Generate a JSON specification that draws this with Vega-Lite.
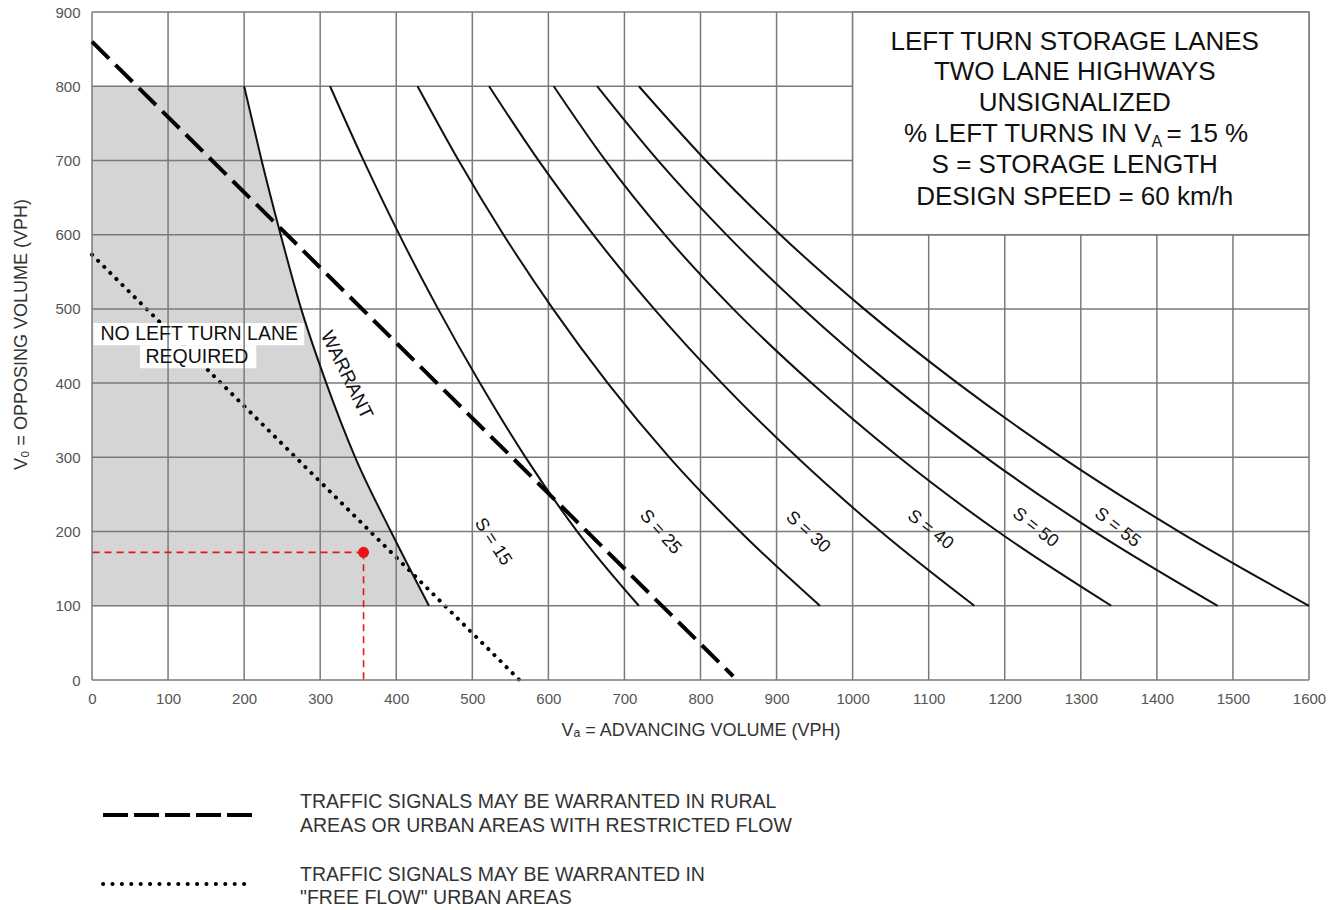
{
  "$schema": "https://vega.github.io/schema/vega-lite/v6.json",
  "width": 1217,
  "height": 668,
  "autosize": {"type": "none"},
  "padding": {"left": 92, "top": 12, "right": 23, "bottom": 230},
  "background": "white",
  "config": {
    "view": {"stroke": null},
    "font": "Liberation Sans",
    "text": {"font": "Liberation Sans", "color": "#111"}
  },
  "datasets": {
    "curves": [
      {"curve": "WARRANT", "VA": 200, "V0": 800}, {"curve": "WARRANT", "VA": 223, "V0": 700}, {"curve": "WARRANT", "VA": 248, "V0": 600}, {"curve": "WARRANT", "VA": 275, "V0": 500}, {"curve": "WARRANT", "VA": 308, "V0": 400}, {"curve": "WARRANT", "VA": 346, "V0": 300}, {"curve": "WARRANT", "VA": 393, "V0": 200}, {"curve": "WARRANT", "VA": 443, "V0": 100},
      {"curve": "S15", "VA": 313, "V0": 800}, {"curve": "S15", "VA": 357, "V0": 700}, {"curve": "S15", "VA": 404, "V0": 600}, {"curve": "S15", "VA": 455, "V0": 500}, {"curve": "S15", "VA": 510, "V0": 400}, {"curve": "S15", "VA": 570, "V0": 300}, {"curve": "S15", "VA": 638, "V0": 200}, {"curve": "S15", "VA": 719, "V0": 100},
      {"curve": "S25", "VA": 428, "V0": 800}, {"curve": "S25", "VA": 482, "V0": 700}, {"curve": "S25", "VA": 541, "V0": 600}, {"curve": "S25", "VA": 606, "V0": 500}, {"curve": "S25", "VA": 678, "V0": 400}, {"curve": "S25", "VA": 759, "V0": 300}, {"curve": "S25", "VA": 852, "V0": 200}, {"curve": "S25", "VA": 957, "V0": 100},
      {"curve": "S30", "VA": 522, "V0": 800}, {"curve": "S30", "VA": 587, "V0": 700}, {"curve": "S30", "VA": 659, "V0": 600}, {"curve": "S30", "VA": 739, "V0": 500}, {"curve": "S30", "VA": 828, "V0": 400}, {"curve": "S30", "VA": 927, "V0": 300}, {"curve": "S30", "VA": 1037, "V0": 200}, {"curve": "S30", "VA": 1160, "V0": 100},
      {"curve": "S40", "VA": 607, "V0": 800}, {"curve": "S40", "VA": 675, "V0": 700}, {"curve": "S40", "VA": 753, "V0": 600}, {"curve": "S40", "VA": 843, "V0": 500}, {"curve": "S40", "VA": 946, "V0": 400}, {"curve": "S40", "VA": 1061, "V0": 300}, {"curve": "S40", "VA": 1191, "V0": 200}, {"curve": "S40", "VA": 1340, "V0": 100},
      {"curve": "S50", "VA": 664, "V0": 800}, {"curve": "S50", "VA": 744, "V0": 700}, {"curve": "S50", "VA": 834, "V0": 600}, {"curve": "S50", "VA": 935, "V0": 500}, {"curve": "S50", "VA": 1048, "V0": 400}, {"curve": "S50", "VA": 1175, "V0": 300}, {"curve": "S50", "VA": 1318, "V0": 200}, {"curve": "S50", "VA": 1480, "V0": 100},
      {"curve": "S55", "VA": 719, "V0": 800}, {"curve": "S55", "VA": 807, "V0": 700}, {"curve": "S55", "VA": 905, "V0": 600}, {"curve": "S55", "VA": 1015, "V0": 500}, {"curve": "S55", "VA": 1138, "V0": 400}, {"curve": "S55", "VA": 1275, "V0": 300}, {"curve": "S55", "VA": 1429, "V0": 200}, {"curve": "S55", "VA": 1600, "V0": 100}
    ],
    "signals": [
      {"kind": "rural", "VA": 0, "V0": 860}, {"kind": "rural", "VA": 843, "V0": 5},
      {"kind": "free", "VA": 0, "V0": 573}, {"kind": "free", "VA": 562, "V0": 0}
    ],
    "gridX": [{"g": 0}, {"g": 100}, {"g": 200}, {"g": 300}, {"g": 400}, {"g": 500}, {"g": 600}, {"g": 700}, {"g": 800}, {"g": 900}, {"g": 1000}, {"g": 1100}, {"g": 1200}, {"g": 1300}, {"g": 1400}, {"g": 1500}, {"g": 1600}],
    "gridY": [{"g": 0}, {"g": 100}, {"g": 200}, {"g": 300}, {"g": 400}, {"g": 500}, {"g": 600}, {"g": 700}, {"g": 800}, {"g": 900}],
    "titleBox": [{"VA": 1000, "VA2": 1600, "V0": 600, "V02": 900}],
    "labelBoxes": [
      {"VA": 2, "VA2": 279, "V0": 451, "V02": 481},
      {"VA": 63, "VA2": 216, "V0": 420, "V02": 451}
    ],
    "titleLines": [
      {"text": "LEFT TURN STORAGE LANES", "VA": 1292, "V0": 860},
      {"text": "TWO LANE HIGHWAYS", "VA": 1292, "V0": 819},
      {"text": "UNSIGNALIZED", "VA": 1292, "V0": 778},
      {"text": "S = STORAGE LENGTH", "VA": 1292, "V0": 694},
      {"text": "DESIGN SPEED = 60 km/h", "VA": 1292, "V0": 651}
    ],
    "noLane": [
      {"text": "NO LEFT TURN LANE", "VA": 141, "V0": 466},
      {"text": "REQUIRED", "VA": 138, "V0": 435}
    ],
    "point": [{"VA": 357, "V0": 172}],
    "legendLines": [
      {"kind": "rural", "VA": 14.5, "VA2": 214, "V0": -182},
      {"kind": "free", "VA": 14.5, "VA2": 210, "V0": -275}
    ],
    "legendText": [
      {"text": "TRAFFIC SIGNALS MAY BE WARRANTED IN RURAL", "VA": 273.5, "V0": -164.4},
      {"text": "AREAS OR URBAN AREAS WITH RESTRICTED FLOW", "VA": 273.5, "V0": -196.7},
      {"text": "TRAFFIC SIGNALS MAY BE WARRANTED IN", "VA": 273.5, "V0": -262.7},
      {"text": "\"FREE FLOW\" URBAN AREAS", "VA": 273.5, "V0": -293.7}
    ]
  },
  "layer": [
    {
      "data": {"name": "curves"},
      "transform": [{"filter": "datum.curve === 'WARRANT'"}],
      "mark": {"type": "area", "orient": "horizontal", "interpolate": "monotone", "fill": "#d5d5d5"},
      "encoding": {
        "x": {
          "field": "VA", "type": "quantitative",
          "scale": {"domain": [0, 1600], "nice": false, "zero": false},
          "axis": {
            "values": [0, 100, 200, 300, 400, 500, 600, 700, 800, 900, 1000, 1100, 1200, 1300, 1400, 1500, 1600],
            "format": "d",
            "grid": false, "ticks": false, "domain": false, "labelFlush": false, "labelOverlap": false,
            "labelFont": "Liberation Sans", "labelFontSize": 15, "labelColor": "#555", "labelPadding": 11,
            "title": "Vₐ = ADVANCING VOLUME (VPH)", "titleFont": "Liberation Sans", "titleFontSize": 18,
            "titleFontWeight": "normal", "titleColor": "#333", "titlePadding": 15
          }
        },
        "x2": {"datum": 0},
        "y": {
          "field": "V0", "type": "quantitative",
          "scale": {"domain": [0, 900], "nice": false, "zero": false},
          "axis": {
            "values": [0, 100, 200, 300, 400, 500, 600, 700, 800, 900],
            "format": "d",
            "grid": false, "ticks": false, "domain": false, "labelOverlap": false, "labelFlush": false,
            "labelFont": "Liberation Sans", "labelFontSize": 15, "labelColor": "#555", "labelPadding": 12,
            "title": "V₀ = OPPOSING VOLUME (VPH)", "titleFont": "Liberation Sans", "titleFontSize": 18,
            "titleFontWeight": "normal", "titleColor": "#333", "titlePadding": 24, "titleY": 322
          }
        }
      }
    },
    {
      "data": {"name": "signals"},
      "transform": [{"filter": "datum.kind === 'free'"}],
      "mark": {"type": "line", "color": "#000", "strokeWidth": 4, "strokeDash": [0.1, 8.5], "strokeCap": "round"},
      "encoding": {"x": {"field": "VA", "type": "quantitative"}, "y": {"field": "V0", "type": "quantitative"}}
    },
    {
      "data": {"name": "labelBoxes"},
      "mark": {"type": "rect", "fill": "white"},
      "encoding": {
        "x": {"field": "VA", "type": "quantitative"}, "x2": {"field": "VA2"},
        "y": {"field": "V0", "type": "quantitative"}, "y2": {"field": "V02"}
      }
    },
    {
      "data": {"name": "gridX"},
      "mark": {"type": "rule", "color": "#7a7a7a", "strokeWidth": 1.5},
      "encoding": {"x": {"field": "g", "type": "quantitative"}, "y": {"datum": 0, "type": "quantitative"}, "y2": {"datum": 900}}
    },
    {
      "data": {"name": "gridY"},
      "mark": {"type": "rule", "color": "#7a7a7a", "strokeWidth": 1.5},
      "encoding": {"y": {"field": "g", "type": "quantitative"}, "x": {"datum": 0, "type": "quantitative"}, "x2": {"datum": 1600}}
    },
    {
      "data": {"name": "titleBox"},
      "mark": {"type": "rect", "fill": "white", "stroke": "#7a7a7a", "strokeWidth": 1.5},
      "encoding": {
        "x": {"field": "VA", "type": "quantitative"}, "x2": {"field": "VA2"},
        "y": {"field": "V0", "type": "quantitative"}, "y2": {"field": "V02"}
      }
    },
    {
      "data": {"name": "curves"},
      "mark": {"type": "line", "interpolate": "monotone", "color": "#111", "strokeWidth": 2},
      "encoding": {
        "x": {"field": "VA", "type": "quantitative"},
        "y": {"field": "V0", "type": "quantitative"},
        "detail": {"field": "curve"}
      }
    },
    {
      "data": {"name": "signals"},
      "transform": [{"filter": "datum.kind === 'rural'"}],
      "mark": {"type": "line", "color": "#000", "strokeWidth": 4, "strokeDash": [24, 9]},
      "encoding": {"x": {"field": "VA", "type": "quantitative"}, "y": {"field": "V0", "type": "quantitative"}}
    },
    {
      "data": {"name": "point"},
      "mark": {"type": "rule", "color": "#e8141b", "strokeWidth": 1.6, "strokeDash": [7, 5]},
      "encoding": {"x": {"field": "VA", "type": "quantitative"}, "x2": {"datum": 0}, "y": {"field": "V0", "type": "quantitative"}}
    },
    {
      "data": {"name": "point"},
      "mark": {"type": "rule", "color": "#e8141b", "strokeWidth": 1.6, "strokeDash": [7, 5]},
      "encoding": {"x": {"field": "VA", "type": "quantitative"}, "y": {"field": "V0", "type": "quantitative"}, "y2": {"datum": 0}}
    },
    {
      "data": {"name": "point"},
      "mark": {"type": "circle", "color": "#e8141b", "opacity": 1, "size": 120},
      "encoding": {"x": {"field": "VA", "type": "quantitative"}, "y": {"field": "V0", "type": "quantitative"}}
    },
    {
      "data": {"name": "titleLines"},
      "mark": {"type": "text", "fontSize": 26, "align": "center", "baseline": "middle"},
      "encoding": {"x": {"field": "VA", "type": "quantitative"}, "y": {"field": "V0", "type": "quantitative"}, "text": {"field": "text"}}
    },
    {
      "data": {"values": [{"text": "% LEFT TURNS IN V", "VA": 1393, "V0": 736}]},
      "mark": {"type": "text", "fontSize": 26, "align": "right", "baseline": "middle"},
      "encoding": {"x": {"field": "VA", "type": "quantitative"}, "y": {"field": "V0", "type": "quantitative"}, "text": {"field": "text"}}
    },
    {
      "data": {"values": [{"text": "A", "VA": 1393, "V0": 736}]},
      "mark": {"type": "text", "fontSize": 16, "align": "left", "baseline": "middle", "dy": 8},
      "encoding": {"x": {"field": "VA", "type": "quantitative"}, "y": {"field": "V0", "type": "quantitative"}, "text": {"field": "text"}}
    },
    {
      "data": {"values": [{"text": "= 15 %", "VA": 1393, "V0": 736}]},
      "mark": {"type": "text", "fontSize": 26, "align": "left", "baseline": "middle", "dx": 15},
      "encoding": {"x": {"field": "VA", "type": "quantitative"}, "y": {"field": "V0", "type": "quantitative"}, "text": {"field": "text"}}
    },
    {
      "data": {"name": "noLane"},
      "mark": {"type": "text", "fontSize": 19.5, "align": "center", "baseline": "middle"},
      "encoding": {"x": {"field": "VA", "type": "quantitative"}, "y": {"field": "V0", "type": "quantitative"}, "text": {"field": "text"}}
    },
    {
      "data": {"values": [{"text": "WARRANT", "VA": 335, "V0": 411}]},
      "mark": {"type": "text", "fontSize": 19, "align": "center", "baseline": "middle", "angle": 64},
      "encoding": {"x": {"field": "VA", "type": "quantitative"}, "y": {"field": "V0", "type": "quantitative"}, "text": {"field": "text"}}
    },
    {
      "data": {"values": [{"text": "S = 15", "VA": 527, "V0": 186}]},
      "mark": {"type": "text", "fontSize": 18, "align": "center", "baseline": "middle", "angle": 57},
      "encoding": {"x": {"field": "VA", "type": "quantitative"}, "y": {"field": "V0", "type": "quantitative"}, "text": {"field": "text"}}
    },
    {
      "data": {"values": [{"text": "S = 25", "VA": 747, "V0": 199}]},
      "mark": {"type": "text", "fontSize": 18, "align": "center", "baseline": "middle", "angle": 48},
      "encoding": {"x": {"field": "VA", "type": "quantitative"}, "y": {"field": "V0", "type": "quantitative"}, "text": {"field": "text"}}
    },
    {
      "data": {"values": [{"text": "S = 30", "VA": 941, "V0": 199}]},
      "mark": {"type": "text", "fontSize": 18, "align": "center", "baseline": "middle", "angle": 42},
      "encoding": {"x": {"field": "VA", "type": "quantitative"}, "y": {"field": "V0", "type": "quantitative"}, "text": {"field": "text"}}
    },
    {
      "data": {"values": [{"text": "S = 40", "VA": 1102, "V0": 202}, {"text": "S = 50", "VA": 1240, "V0": 205}, {"text": "S = 55", "VA": 1348, "V0": 205}]},
      "mark": {"type": "text", "fontSize": 18, "align": "center", "baseline": "middle", "angle": 38},
      "encoding": {"x": {"field": "VA", "type": "quantitative"}, "y": {"field": "V0", "type": "quantitative"}, "text": {"field": "text"}}
    },
    {
      "data": {"name": "legendLines"},
      "transform": [{"filter": "datum.kind === 'rural'"}],
      "mark": {"type": "rule", "color": "#000", "strokeWidth": 4, "strokeDash": [25, 6]},
      "encoding": {"x": {"field": "VA", "type": "quantitative"}, "x2": {"field": "VA2"}, "y": {"field": "V0", "type": "quantitative"}}
    },
    {
      "data": {"name": "legendLines"},
      "transform": [{"filter": "datum.kind === 'free'"}],
      "mark": {"type": "rule", "color": "#000", "strokeWidth": 4, "strokeDash": [0.1, 9.3], "strokeCap": "round"},
      "encoding": {"x": {"field": "VA", "type": "quantitative"}, "x2": {"field": "VA2"}, "y": {"field": "V0", "type": "quantitative"}}
    },
    {
      "data": {"name": "legendText"},
      "mark": {"type": "text", "fontSize": 19.5, "align": "left", "baseline": "middle", "color": "#333"},
      "encoding": {"x": {"field": "VA", "type": "quantitative"}, "y": {"field": "V0", "type": "quantitative"}, "text": {"field": "text"}}
    }
  ]
}
